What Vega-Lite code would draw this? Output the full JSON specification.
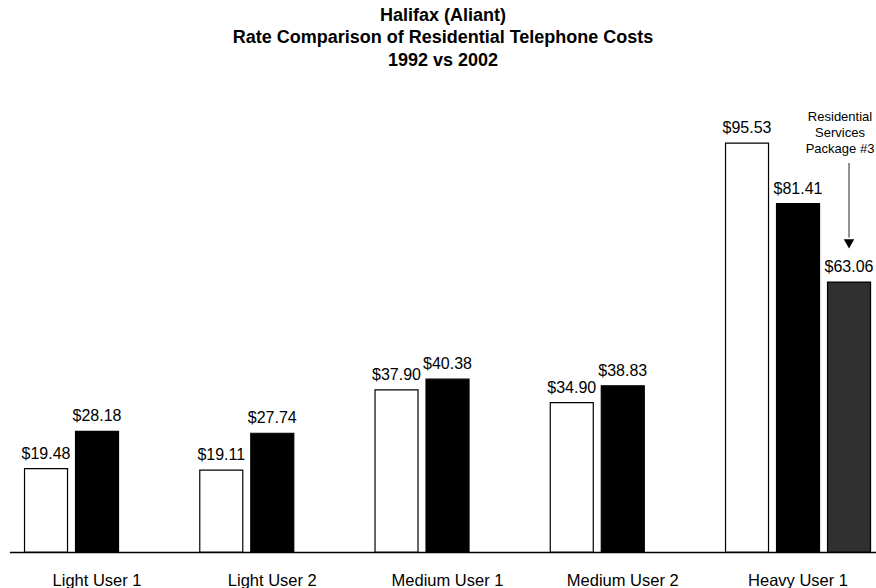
{
  "$schema": "https://vega.github.io/schema/vega-lite/v6.json",
  "autosize": {"type": "none"},
  "width": 866,
  "height": 428,
  "padding": {"left": 10, "top": 124, "right": 0, "bottom": 36},
  "background": "white",
  "config": {
    "view": {"stroke": null},
    "font": "Liberation Sans"
  },
  "title": {
    "text": ["Halifax (Aliant)", "Rate Comparison of Residential Telephone Costs", "1992 vs 2002"],
    "anchor": "middle",
    "frame": "group",
    "font": "Liberation Sans",
    "fontSize": 18,
    "fontWeight": "bold",
    "color": "black",
    "lineHeight": 22.5,
    "offset": 41
  },
  "layer": [
    {
      "data": {
        "values": [
          {"user": "Light User 1", "period": "1992", "cost": 19.48},
          {"user": "Light User 1", "period": "2002", "cost": 28.18},
          {"user": "Light User 2", "period": "1992", "cost": 19.11},
          {"user": "Light User 2", "period": "2002", "cost": 27.74},
          {"user": "Medium User 1", "period": "1992", "cost": 37.90},
          {"user": "Medium User 1", "period": "2002", "cost": 40.38},
          {"user": "Medium User 2", "period": "1992", "cost": 34.90},
          {"user": "Medium User 2", "period": "2002", "cost": 38.83},
          {"user": "Heavy User 1", "period": "1992", "cost": 95.53},
          {"user": "Heavy User 1", "period": "2002", "cost": 81.41},
          {"user": "Heavy User 1", "period": "Package", "cost": 63.06}
        ]
      },
      "layer": [
        {
          "mark": {"type": "bar", "stroke": "black", "strokeWidth": 1.2},
          "encoding": {
            "x": {"field": "user", "type": "nominal"},
            "xOffset": {"field": "period", "type": "nominal"},
            "y": {"field": "cost", "type": "quantitative"},
            "fill": {
              "field": "period",
              "type": "nominal",
              "scale": {"domain": ["1992", "2002", "Package"], "range": ["white", "black", "#303030"]},
              "legend": null
            }
          }
        },
        {
          "mark": {"type": "text", "baseline": "alphabetic", "dy": -10, "fontSize": 16, "color": "black", "font": "Liberation Sans"},
          "encoding": {
            "x": {"field": "user", "type": "nominal"},
            "xOffset": {"field": "period", "type": "nominal"},
            "y": {"field": "cost", "type": "quantitative"},
            "text": {"field": "cost", "type": "quantitative", "format": "$.2f"}
          }
        }
      ]
    },
    {
      "data": {
        "values": [
          {"user": "Heavy User 1", "period": "Package", "from": 90.9, "to": 73.5, "tip": 72, "note": ["Residential", "Services", "Package #3"], "noteAt": 100.8}
        ]
      },
      "layer": [
        {
          "mark": {"type": "rule", "color": "#222", "strokeWidth": 1},
          "encoding": {
            "x": {"field": "user", "type": "nominal"},
            "xOffset": {"field": "period", "type": "nominal"},
            "y": {"field": "from", "type": "quantitative"},
            "y2": {"field": "to"}
          }
        },
        {
          "mark": {"type": "point", "shape": "triangle-down", "filled": true, "color": "black", "size": 110, "opacity": 1},
          "encoding": {
            "x": {"field": "user", "type": "nominal"},
            "xOffset": {"field": "period", "type": "nominal"},
            "y": {"field": "tip", "type": "quantitative"}
          }
        },
        {
          "mark": {"type": "text", "baseline": "alphabetic", "fontSize": 13, "lineHeight": 16, "dx": -9, "color": "black", "font": "Liberation Sans"},
          "encoding": {
            "x": {"field": "user", "type": "nominal"},
            "xOffset": {"field": "period", "type": "nominal"},
            "y": {"field": "noteAt", "type": "quantitative"},
            "text": {"field": "note"}
          }
        }
      ]
    }
  ],
  "resolve": {"scale": {"x": "shared", "y": "shared", "xOffset": "shared"}},
  "encoding": {
    "x": {
      "field": "user",
      "type": "nominal",
      "scale": {
        "domain": ["Light User 1", "Light User 2", "Medium User 1", "Medium User 2", "Heavy User 1"],
        "range": [-0.6, 875.65],
        "paddingInner": 0,
        "paddingOuter": 0
      },
      "axis": {
        "title": null,
        "labelAngle": 0,
        "labelFontSize": 16.5,
        "labelFont": "Liberation Sans",
        "labelColor": "black",
        "labelPadding": 20,
        "ticks": false,
        "tickSize": 0,
        "domainColor": "black",
        "domainWidth": 1.5,
        "grid": false
      }
    },
    "xOffset": {
      "field": "period",
      "type": "nominal",
      "scale": {"domain": ["1992", "2002", "Package"], "paddingInner": 0.157, "paddingOuter": 0.2965}
    },
    "y": {
      "field": "cost",
      "type": "quantitative",
      "scale": {"domain": [0, 100], "nice": false, "zero": true},
      "axis": null
    }
  }
}
